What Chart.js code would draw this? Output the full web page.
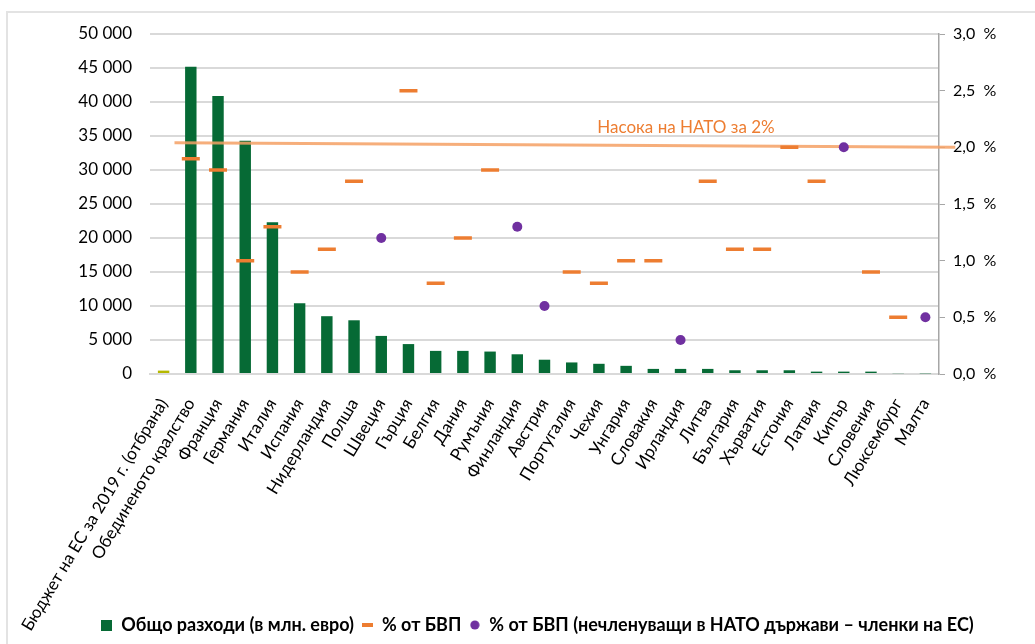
<!DOCTYPE html>
<html>
<head>
<meta charset="utf-8">
<script src="https://cdn.jsdelivr.net/npm/chart.js@4"></script>
<style>
  html, body { margin: 0; padding: 0; background: #fff; overflow: hidden; }
  #frame { position: absolute; left: 6px; top: 11px; width: 1100px; height: 700px; border: 2px solid #e3e3e3; }
  #wrap { position: absolute; left: 0; top: 0; width: 1035px; height: 644px; }
</style>
</head>
<body>
<div id="frame"></div>
<div id="wrap"><canvas id="c" width="1035" height="644"></canvas></div>
<script>
const categories = ['Бюджет на ЕС за 2019 г. (отбрана)', 'Обединеното кралство', 'Франция', 'Германия', 'Италия', 'Испания', 'Нидерландия', 'Полша', 'Швеция', 'Гърция', 'Белгия', 'Дания', 'Румъния', 'Финландия', 'Австрия', 'Португалия', 'Чехия', 'Унгария', 'Словакия', 'Ирландия', 'Литва', 'България', 'Хърватия', 'Естония', 'Латвия', 'Кипър', 'Словения', 'Люксембург', 'Малта'];
const spending = [500, 45200, 40900, 34300, 22300, 10400, 8500, 7900, 5600, 4400, 3400, 3400, 3300, 2900, 2100, 1700, 1500, 1200, 750, 750, 750, 550, 550, 550, 350, 350, 350, 120, 100];
const pctGdp = [null, 1.9, 1.8, 1.0, 1.3, 0.9, 1.1, 1.7, null, 2.5, 0.8, 1.2, 1.8, null, null, 0.9, 0.8, 1.0, 1.0, null, 1.7, 1.1, 1.1, 2.0, 1.7, null, 0.9, 0.5, null];
const pctGdpNonNato = [null, null, null, null, null, null, null, null, 1.2, null, null, null, null, 1.3, 0.6, null, null, null, null, 0.3, null, null, null, null, null, 2.0, null, null, 0.5];
const natoTarget = [{x: 0.4, y: 2.04}, {x: 29.1, y: 2.0}];
const natoLabel = 'Насока на НАТО за 2%';
const seriesNames = ['Общо разходи (в млн. евро)', '% от БВП', '% от БВП (нечленуващи в НАТО държави – членки на ЕС)'];

const FONT = 'Lato, "Open Sans", sans-serif';
const GREEN = '#066a35', ORANGE = '#ed7d31', PURPLE = '#7030a0';
const barColors = spending.map((v, i) => i === 0 ? '#b5b800' : GREEN);

function marker(w, h, draw) {
  const c = document.createElement('canvas');
  c.width = w; c.height = h;
  draw(c.getContext('2d'), w, h);
  return c;
}
const mkSquare = marker(11, 11, (g, w, h) => { g.fillStyle = GREEN; g.fillRect(0, 0, w, h); });
const mkDash = marker(11, 4, (g, w, h) => { g.fillStyle = ORANGE; g.fillRect(0, 0, w, h); });
const mkDot = marker(10, 10, (g, w, h) => { g.fillStyle = PURPLE; g.beginPath(); g.arc(5, 5, 4.6, 0, Math.PI * 2); g.fill(); });

const LEGEND_PAD = 8;
const LEGEND_FONT = 18;

const natoLabelPlugin = {
  id: 'natoLabel',
  afterLayout(chart) {
    // place legend row beside the long rotated category labels (as in the original)
    const lg = chart.legend;
    if (lg) {
      const h = lg.height;
      lg.top = 625 - LEGEND_PAD - LEGEND_FONT / 2;
      lg.bottom = lg.top + h;
      lg.left += 35;
      lg.right += 35;
    }
  },
  afterDatasetsDraw(chart) {
    const ctx = chart.ctx;
    const x = chart.scales.xl.getPixelForValue(19.2);
    const y = chart.scales.yp.getPixelForValue(2.0) - 20;
    ctx.save();
    ctx.font = '17px ' + FONT;
    ctx.fillStyle = ORANGE;
    ctx.textAlign = 'center';
    ctx.textBaseline = 'middle';
    ctx.fillText(natoLabel, x, y);
    ctx.restore();
  }
};

new Chart(document.getElementById('c'), {
  type: 'bar',
  data: {
    labels: categories,
    datasets: [
      {
        label: seriesNames[0],
        data: spending,
        backgroundColor: barColors,
        yAxisID: 'y',
        xAxisID: 'x',
        grouped: false,
        barPercentage: 0.42,
        categoryPercentage: 1.0,
        order: 3
      },
      {
        type: 'line',
        label: seriesNames[1],
        data: pctGdp,
        yAxisID: 'yp',
        xAxisID: 'x',
        showLine: false,
        pointStyle: 'line',
        pointRadius: 9,
        pointBorderWidth: 3.5,
        borderColor: ORANGE,
        backgroundColor: ORANGE,
        order: 1
      },
      {
        type: 'line',
        label: seriesNames[2],
        data: pctGdpNonNato,
        yAxisID: 'yp',
        xAxisID: 'x',
        showLine: false,
        pointStyle: 'circle',
        pointRadius: 5,
        pointBorderWidth: 0,
        borderColor: PURPLE,
        backgroundColor: PURPLE,
        order: 0
      },
      {
        type: 'line',
        label: 'nato',
        data: natoTarget,
        yAxisID: 'yp',
        xAxisID: 'xl',
        borderColor: 'rgba(244,160,100,0.85)',
        borderWidth: 3,
        pointRadius: 0,
        clip: false,
        order: 2
      }
    ]
  },
  options: {
    responsive: false,
    animation: false,
    devicePixelRatio: 1,
    layout: { padding: { left: 0, right: 30, top: 34, bottom: -34 } },
    plugins: {
      tooltip: { enabled: false },
      legend: {
        position: 'bottom',
        labels: {
          usePointStyle: true,
          pointStyleWidth: 11,
          boxHeight: 11,
          color: '#000',
          font: { family: FONT, size: LEGEND_FONT, weight: 'bold' },
          padding: LEGEND_PAD,
          generateLabels(chart) {
            const ds = chart.data.datasets;
            return [
              { text: ds[0].label, fillStyle: GREEN, strokeStyle: GREEN, pointStyle: mkSquare, lineWidth: 0, datasetIndex: 0 },
              { text: ds[1].label, fillStyle: ORANGE, strokeStyle: ORANGE, pointStyle: mkDash, lineWidth: 0, datasetIndex: 1 },
              { text: ds[2].label, fillStyle: PURPLE, strokeStyle: PURPLE, pointStyle: mkDot, lineWidth: 0, datasetIndex: 2 }
            ];
          }
        }
      }
    },
    scales: {
      x: {
        type: 'category',
        offset: true,
        grid: { display: false, drawTicks: false },
        border: { display: true, color: '#d9d9d9', width: 2 },
        afterFit(scale) { scale.height = 268; },
        ticks: {
          autoSkip: false,
          minRotation: 59,
          maxRotation: 59,
          padding: 21,
          color: '#000',
          font: { family: FONT, size: 17 }
        }
      },
      xl: {
        type: 'linear',
        display: false,
        offset: false,
        grid: { offset: false },
        min: -0.5,
        max: 28.5
      },
      y: {
        position: 'left',
        min: 0,
        max: 50000,
        afterFit(scale) { scale.width = 150; },
        ticks: {
          stepSize: 5000,
          padding: 18,
          color: '#000',
          font: { family: FONT, size: 17 },
          callback: (v) => String(v).replace(/\B(?=(\d{3})+(?!\d))/g, ' ')
        },
        grid: { color: '#d9d9d9', lineWidth: 2, drawTicks: false },
        border: { display: false }
      },
      yp: {
        position: 'right',
        min: 0,
        max: 3.0,
        afterFit(scale) { scale.width = 66; },
        ticks: {
          stepSize: 0.5,
          padding: 8,
          color: '#000',
          font: { family: FONT, size: 16 },
          callback: (v) => v.toFixed(1).replace('.', ',') + '  %'
        },
        grid: { drawOnChartArea: false, drawTicks: true, tickLength: 6, color: '#a6a6a6' },
        border: { display: true, color: '#a6a6a6', width: 1.5 }
      }
    }
  },
  plugins: [natoLabelPlugin]
});
</script>
</body>
</html>
